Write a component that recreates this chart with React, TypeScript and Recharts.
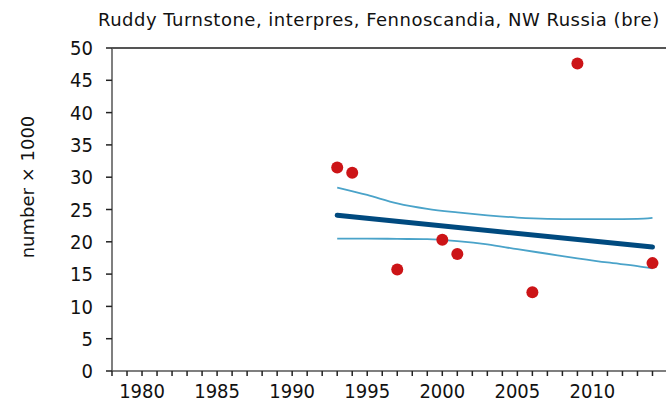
import {
  ComposedChart,
  Line,
  Scatter,
  XAxis,
  YAxis,
  ReferenceLine,
} from 'recharts';

const title = 'Ruddy Turnstone, interpres, Fennoscandia, NW Russia (bre)';
const yLabel = 'number × 1000';

// observed counts (thousands)
const obsYears = [1993, 1994, 1997, 2000, 2001, 2006, 2009, 2014];
const obsValues = [31.5, 30.7, 15.7, 20.3, 18.1, 12.2, 47.6, 16.7];

// fitted trend
const trendYears = [1993, 2014];
const trendValues = [24.1, 19.2];

// confidence band
const bandYears = [1993, 1995, 1997, 1999, 2001, 2003, 2005, 2007, 2009, 2011, 2013, 2014];
const upperValues = [28.4, 27.25, 25.95, 25.1, 24.55, 24.1, 23.75, 23.55, 23.5, 23.5, 23.55, 23.7];
const lowerValues = [20.5, 20.5, 20.45, 20.4, 20.1, 19.6, 18.85, 18.15, 17.45, 16.8, 16.25, 15.9];

const xTicks = [
  1978, 1979, 1980, 1981, 1982, 1983, 1984, 1985, 1986, 1987, 1988, 1989, 1990,
  1991, 1992, 1993, 1994, 1995, 1996, 1997, 1998, 1999, 2000, 2001, 2002, 2003,
  2004, 2005, 2006, 2007, 2008, 2009, 2010, 2011, 2012, 2013, 2014,
];
const xLabelTicks = [1980, 1985, 1990, 1995, 2000, 2005, 2010];
const yTicks = [0, 5, 10, 15, 20, 25, 30, 35, 40, 45, 50];

const FONT = '"DejaVu Sans", Verdana, sans-serif';
const TICK_FONT = 'Tahoma, "DejaVu Sans Condensed", "Liberation Sans", sans-serif';
const AXIS = '#555555';

export default function App() {
  const obsData = obsYears.map((year, i) => ({ year, value: obsValues[i] }));
  const trendData = trendYears.map((year, i) => ({ year, trend: trendValues[i] }));
  const upperData = bandYears.map((year, i) => ({ year, upper: upperValues[i] }));
  const lowerData = bandYears.map((year, i) => ({ year, lower: lowerValues[i] }));

  return (
    <div style={{ position: 'absolute', left: 0, top: 0, width: 666, height: 408, fontFamily: FONT, background: '#fff' }}>
      <div
        style={{
          position: 'absolute',
          left: 98,
          top: 9,
          fontSize: 18,
          letterSpacing: 0.5,
          color: '#111',
          whiteSpace: 'nowrap',
        }}
      >
        {title}
      </div>
      <div
        style={{
          position: 'absolute',
          left: 27,
          top: 187,
          transform: 'translate(-50%, -50%) rotate(-90deg)',
          fontSize: 18,
          color: '#111',
          whiteSpace: 'nowrap',
        }}
      >
        {yLabel}
      </div>
      <ComposedChart
        width={666}
        height={408}
        margin={{ top: 48, right: 0, left: 0, bottom: 0 }}
        style={{ position: 'absolute', left: 0, top: 0 }}
      >
        <XAxis
          type="number"
          dataKey="year"
          domain={[1978, 2014.9]}
          allowDataOverflow
          ticks={xTicks}
          interval={0}
          height={37}
          tickSize={5}
          tickMargin={8}
          tickFormatter={(v: number) => (xLabelTicks.includes(v) ? String(v) : '')}
          tick={{ fill: '#111', fontSize: 20, fontFamily: TICK_FONT }}
          axisLine={{ stroke: AXIS, strokeWidth: 1.5 }}
          tickLine={{ stroke: '#222', strokeWidth: 1.5 }}
        />
        <YAxis
          type="number"
          domain={[0, 50]}
          ticks={yTicks}
          interval={0}
          width={112}
          tickSize={6}
          tickMargin={13}
          tick={{ fill: '#111', fontSize: 20, fontFamily: TICK_FONT }}
          axisLine={{ stroke: AXIS, strokeWidth: 1.5 }}
          tickLine={{ stroke: '#222', strokeWidth: 1.5 }}
        />
        <ReferenceLine y={50} stroke={AXIS} strokeWidth={2} />
        <Line
          data={upperData}
          dataKey="upper"
          type="monotone"
          stroke="#4aa3c9"
          strokeWidth={1.8}
          dot={false}
          activeDot={false}
          isAnimationActive={false}
        />
        <Line
          data={lowerData}
          dataKey="lower"
          type="monotone"
          stroke="#4aa3c9"
          strokeWidth={1.8}
          dot={false}
          activeDot={false}
          isAnimationActive={false}
        />
        <Line
          data={trendData}
          dataKey="trend"
          type="linear"
          stroke="#004a7f"
          strokeWidth={5}
          strokeLinecap="round"
          dot={false}
          activeDot={false}
          isAnimationActive={false}
        />
        <Scatter
          data={obsData}
          dataKey="value"
          fill="#cc1417"
          shape={(p: any) => <circle cx={p.cx} cy={p.cy} r={6} fill="#cc1417" />}
          isAnimationActive={false}
        />
      </ComposedChart>
    </div>
  );
}
